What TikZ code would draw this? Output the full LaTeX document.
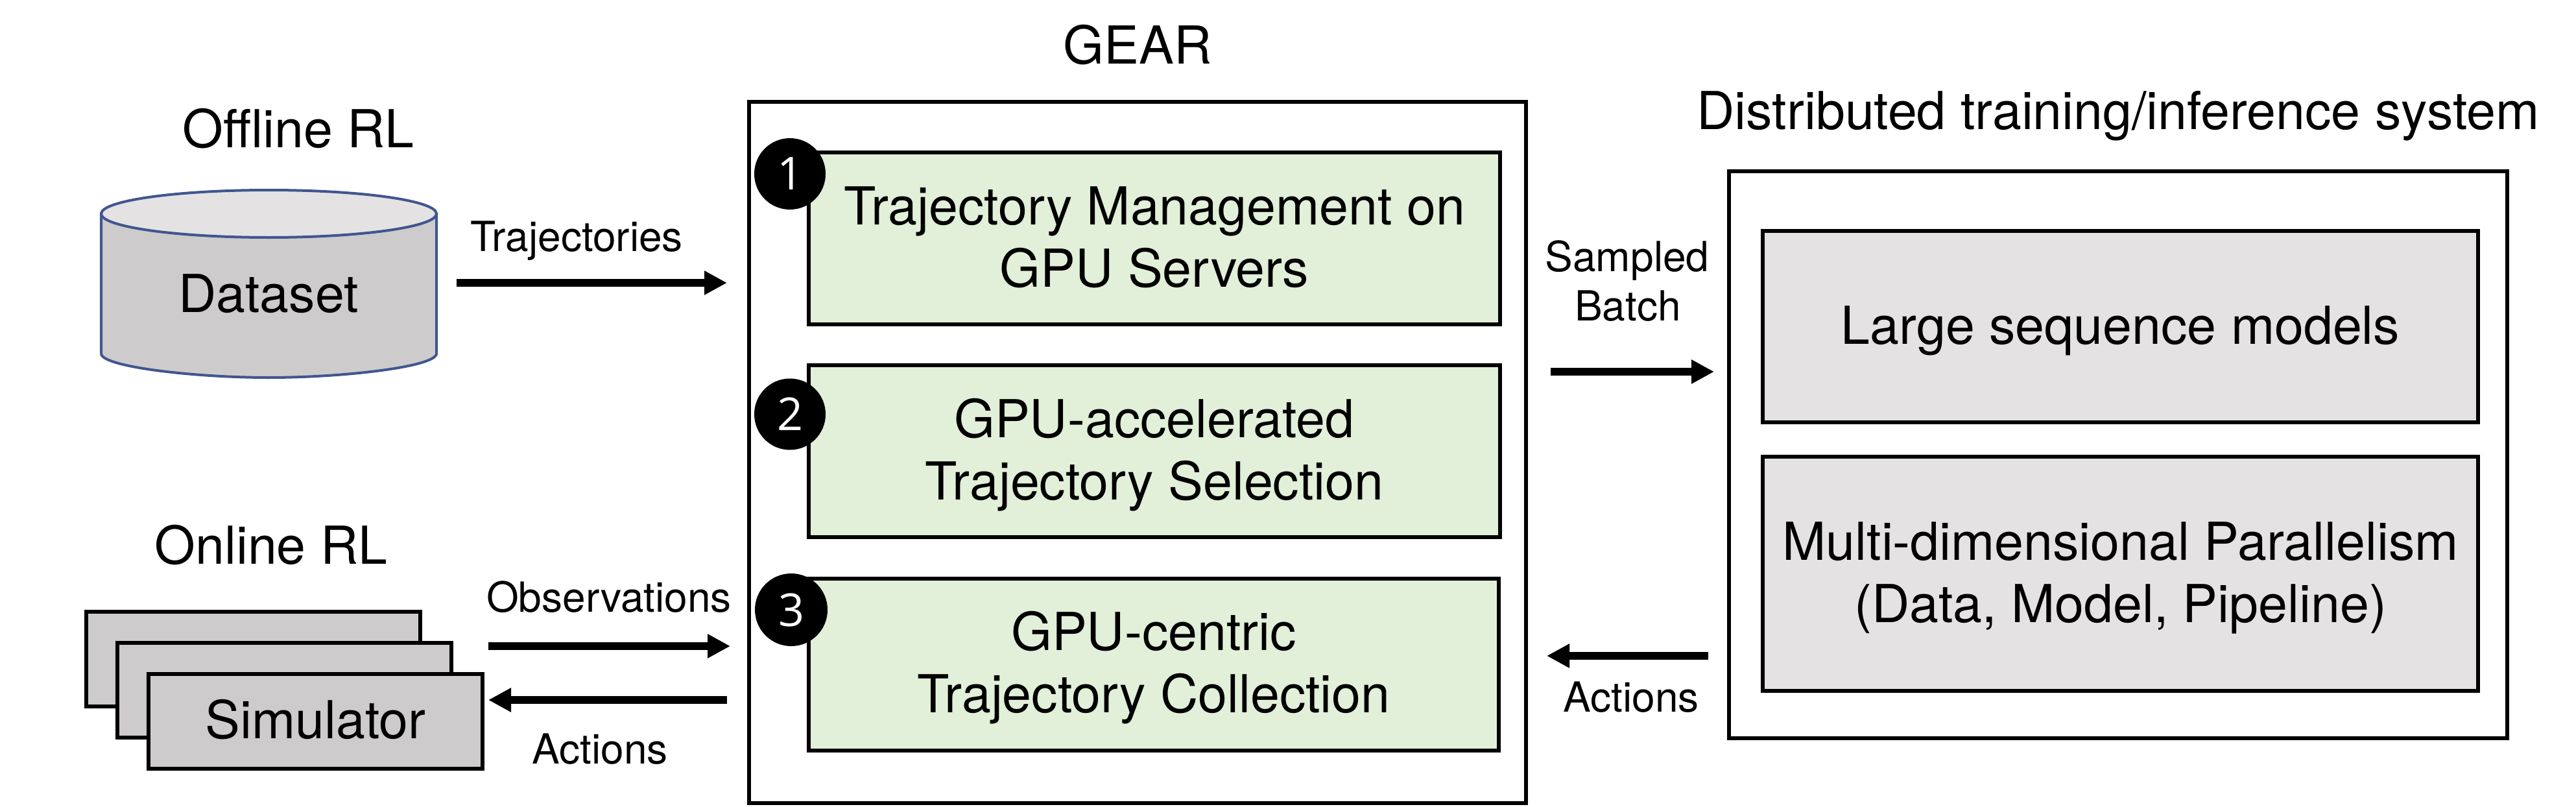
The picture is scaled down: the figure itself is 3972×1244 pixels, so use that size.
\documentclass[tikz,border=0pt]{standalone}
\usepackage{fontspec}
\setmainfont{TeX Gyre Heros}
\newfontfamily\digitfont{Open Sans}
\usetikzlibrary{arrows.meta}
\definecolor{greenfill}{HTML}{E2EFD9}
\definecolor{lightgrey}{HTML}{E4E2E3}
\definecolor{midgrey}{HTML}{CDCBCC}
\definecolor{cylblue}{HTML}{41558F}
\newcommand{\twolines}[2]{\rule{0pt}{75pt}#1\\#2\rule[-22pt]{0pt}{22pt}}
\newcommand{\oneline}[1]{\rule[-22pt]{0pt}{97pt}#1}
\tikzset{
  bigtext/.style={font=\fontsize{80.7}{96}\selectfont,inner sep=0pt,outer sep=0pt},
  smalltext/.style={font=\fontsize{64}{76}\selectfont,inner sep=0pt,outer sep=0pt},
  title/.style={bigtext,anchor=base},
  lbl/.style={smalltext,anchor=base},
  frame/.style={draw=black,line width=6pt,fill=white,inner sep=0pt,outer sep=0pt},
  box/.style={draw=black,line width=6pt,bigtext,align=center},
  greenbox/.style={box,fill=greenfill,minimum width=1066pt,minimum height=265pt},
  greybox/.style={box,fill=lightgrey,minimum width=1103pt},
  simbox/.style={box,fill=midgrey,minimum width=515pt,minimum height=146pt},
  badge/.style={circle,fill=black,text=white,minimum size=110pt,inner sep=0pt,outer sep=0pt,
    font=\digitfont\fontsize{70}{70}\selectfont},
  arr/.style={line width=12.5pt,-{Triangle[length=35pt,width=35pt]}},
  cyl/.style={draw=cylblue,line width=4pt}
}
\begin{document}
\begin{tikzpicture}[x=1pt,y=-1pt]
\useasboundingbox (0,0) rectangle (3972,1244);
\fill[white] (0,0) rectangle (3972,1244);

% titles
\node[title] (tgear) at (1754,99) {GEAR};
\node[title] (toff) at (460,227) {Offline RL};
\node[title] (ton) at (418,869) {Online RL};
\node[title] (tdist) at (3266,199) {Distributed training/inference system};

% cylinder
\path[cyl,fill=midgrey] (156,329.5) -- (156,545)
  .. controls (156,565.4) and (300,582) .. (414.5,582)
  .. controls (529,582) and (673,565.4) .. (673,545) -- (673,329.5) -- cycle;
\path[cyl,fill=lightgrey] (414.5,329.5) ellipse [x radius=258.5,y radius=36.5];
\node[title] (dataset) at (414,481) {Dataset};

% simulators
\node[simbox] (sima) at (390.5,1016) {};
\node[simbox] (simb) at (438,1064) {};
\node[simbox] (simc) at (486.5,1112) {\oneline{Simulator}};

% GEAR
\node[frame,minimum width=1198pt,minimum height=1081pt] (gear) at (1754,697.5) {};
\node[greenbox] (b1) at (1780,367.5) {\twolines{Trajectory Management on}{GPU Servers}};
\node[greenbox] (b2) at (1780,695.5) {\twolines{GPU-accelerated}{Trajectory Selection}};
\node[greenbox,minimum width=1064pt] (b3) at (1779,1024) {\twolines{GPU-centric}{Trajectory Collection}};
\node[badge] (n1) at (1218,268) {1};
\node[badge] (n2) at (1218,638.5) {2};
\node[badge,minimum size=112pt] (n3) at (1220,940) {3};

% distributed system
\node[frame,minimum width=1200pt,minimum height=874pt] (dist) at (3266,701) {};
\node[greybox,minimum height=295pt] (large) at (3269.5,503.5) {\oneline{Large sequence models}};
\node[greybox,minimum height=361pt] (multi) at (3269.5,884.5) {\twolines{Multi-dimensional Parallelism}{(Data, Model, Pipeline)}};

% arrow ends
\coordinate (a1s) at (704,436);   \coordinate (a1e) at (1121,436);
\coordinate (a2s) at (753,996);   \coordinate (a2e) at (1126,996);
\coordinate (a3s) at (1121,1079); \coordinate (a3e) at (753,1079);
\coordinate (a4s) at (2391,573);  \coordinate (a4e) at (2643,573);
\coordinate (a5s) at (2634,1011); \coordinate (a5e) at (2385,1011);
\draw[arr] (a1s) -- (a1e);
\draw[arr] (a2s) -- (a2e);
\draw[arr] (a3s) -- (a3e);
\draw[arr] (a4s) -- (a4e);
\draw[arr] (a5s) -- (a5e);

% arrow labels
\node[lbl] (ltraj) at (889,387) {Trajectories};
\node[lbl] (lobs) at (939,943) {Observations};
\node[lbl] (lact) at (925,1177) {Actions};
\node[lbl] (lsamp) at (2509,418) {Sampled};
\node[lbl] (lbatch) at (2510,494) {Batch};
\node[lbl] (lact2) at (2515,1097) {Actions};
\end{tikzpicture}
\end{document}
